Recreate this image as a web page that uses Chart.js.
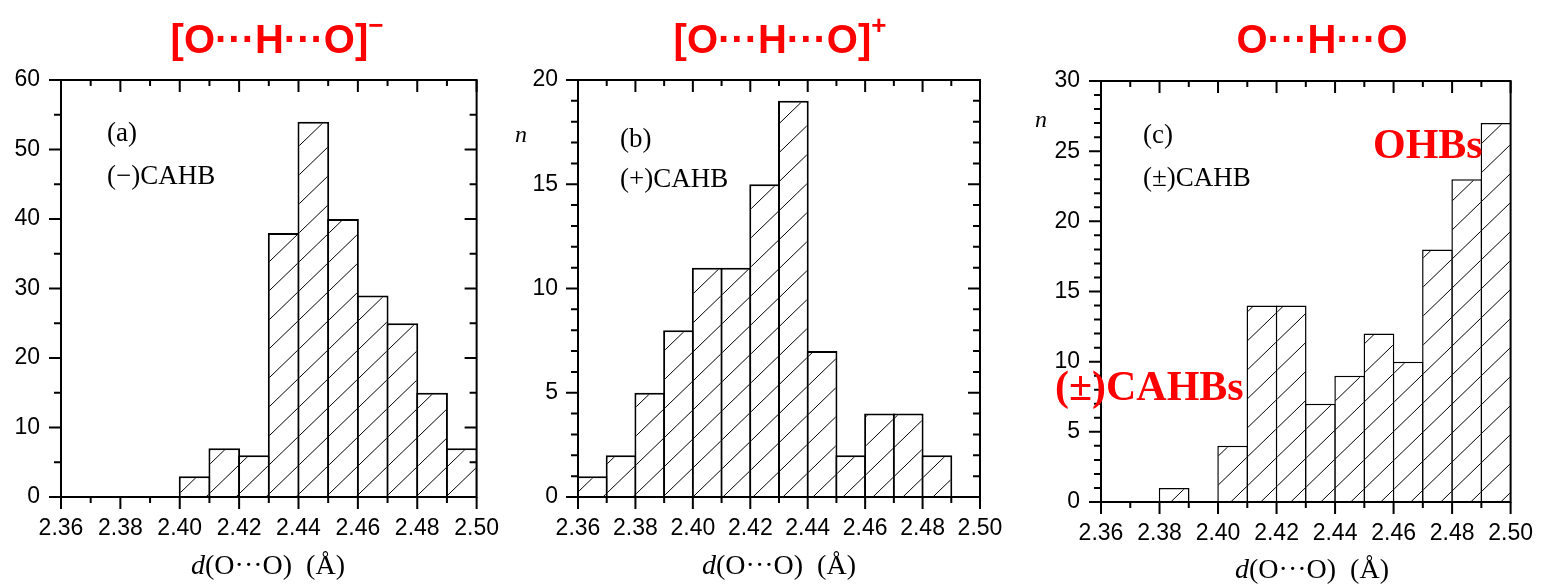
<!DOCTYPE html>
<html>
<head>
<meta charset="utf-8">
<script src="https://cdn.jsdelivr.net/npm/chart.js@4.4.1/dist/chart.umd.min.js"></script>
<style>
  html, body { margin: 0; padding: 0; background: #fff; }
  #wrap { position: relative; width: 1551px; height: 585px; overflow: hidden; }
  canvas { position: absolute; top: 0; }
  .lbl { position: absolute; white-space: nowrap; line-height: 1; color: #000;
         font-family: "Liberation Serif", "Times New Roman", serif; font-size: 27px; }
  .title { position: absolute; top: 19px; white-space: nowrap; line-height: 1; color: #f00;
           font-family: "Liberation Sans", Arial, sans-serif; font-weight: bold; font-size: 40px;
           transform: translateX(-50%); }
  .title sup { font-size: 26px; vertical-align: 19px; line-height: 0; }
  .red { color: #f00; font-weight: bold; font-size: 42px; }
  .xt { transform: translateX(-50%); font-size: 28px; }
  .n { font-style: italic; font-size: 24px; }
</style>
</head>
<body>
<div id="wrap">
  <canvas id="histNeg" width="517" height="585" style="left:0"></canvas>
  <canvas id="histPos" width="513" height="585" style="left:517px"></canvas>
  <canvas id="histNeu" width="521" height="585" style="left:1030px"></canvas>

  <div class="title" style="left:277px">[O···H···O]<sup>−</sup></div>
  <div class="title" style="left:780px">[O···H···O]<sup>+</sup></div>
  <div class="title" style="left:1322px">O···H···O</div>

  <div class="lbl" style="left:107px; top:119px">(a)</div>
  <div class="lbl" style="left:107px; top:162px">(−)CAHB</div>
  <div class="lbl" style="left:620px; top:125px">(b)</div>
  <div class="lbl" style="left:620px; top:165px">(+)CAHB</div>
  <div class="lbl" style="left:1143px; top:121px">(c)</div>
  <div class="lbl" style="left:1143px; top:164px">(±)CAHB</div>

  <div class="lbl n" style="left:515px; top:122px">n</div>
  <div class="lbl n" style="left:1035px; top:107px">n</div>

  <div class="lbl red" style="left:1373px; top:123px">OHBs</div>
  <div class="lbl red" style="left:1055px; top:365px">(±)CAHBs</div>

  <div class="lbl xt" style="left:268px; top:551px"><i>d</i>(O···O)&nbsp;&nbsp;(Å)</div>
  <div class="lbl xt" style="left:779px; top:551px"><i>d</i>(O···O)&nbsp;&nbsp;(Å)</div>
  <div class="lbl xt" style="left:1312px; top:555px"><i>d</i>(O···O)&nbsp;&nbsp;(Å)</div>
</div>

<script>
// O···O distance bins (left edge, Å), all 0.01 Å wide
const binWidth = 0.01;
const xMin = 2.36;
const xMax = 2.50;

// (a) negative charge-assisted H-bonds
const negBins = [2.40, 2.41, 2.42, 2.43, 2.44, 2.45, 2.46, 2.47, 2.48, 2.49];
const negCounts = [3, 7, 6, 38, 54, 40, 29, 25, 15, 7];

// (b) positive charge-assisted H-bonds
const posBins = [2.36, 2.37, 2.38, 2.39, 2.40, 2.41, 2.42, 2.43, 2.44, 2.45, 2.46, 2.47, 2.48];
const posCounts = [1, 2, 5, 8, 11, 11, 15, 19, 7, 2, 4, 4, 2];

// (c) neutral O-H···O bonds
const neuBins = [2.38, 2.40, 2.41, 2.42, 2.43, 2.44, 2.45, 2.46, 2.47, 2.48, 2.49];
const neuCounts = [1, 4, 14, 14, 7, 9, 12, 10, 18, 23, 27];

const tickFont = { family: '"Liberation Sans", Arial, sans-serif', size: 23 };

// diagonal "/" hatch fill
function makeHatch(ctx) {
  const w = 30, h = 29;
  const c = document.createElement('canvas');
  c.width = w;
  c.height = h;
  const g = c.getContext('2d');
  g.fillStyle = '#fff';
  g.fillRect(0, 0, w, h);
  g.strokeStyle = '#000';
  g.lineWidth = 1;
  g.beginPath();
  g.moveTo(-w, 2 * h); g.lineTo(2 * w, -h);
  g.moveTo(-w, h); g.lineTo(w, -h);
  g.moveTo(0, 2 * h); g.lineTo(2 * w, 0);
  g.stroke();
  return ctx.createPattern(c, 'repeat');
}

// box frame with major/minor ticks on all sides
const frameTicks = {
  id: 'frameTicks',
  afterDatasetsDraw(chart, args, opts) {
    const { ctx, chartArea: a, scales: { x, y } } = chart;
    ctx.save();
    ctx.strokeStyle = '#000';
    ctx.lineWidth = 2;
    ctx.strokeRect(a.left, a.top, a.right - a.left, a.bottom - a.top);
    ctx.beginPath();
    x.ticks.forEach(t => {
      const px = x.getPixelForValue(t.value);
      const len = t.label ? 12 : 6;
      ctx.moveTo(px, a.bottom); ctx.lineTo(px, a.bottom + len);
      ctx.moveTo(px, a.top); ctx.lineTo(px, a.top + len);
    });
    y.ticks.forEach(t => {
      const py = y.getPixelForValue(t.value);
      const len = t.label ? 12 : 7;
      ctx.moveTo(a.left, py); ctx.lineTo(a.left - len, py);
      if (opts.right !== false) {
        ctx.moveTo(a.right, py); ctx.lineTo(a.right - len, py);
      }
    });
    ctx.stroke();
    ctx.restore();
  }
};

function makeHist(id, bins, counts, cfg) {
  const el = document.getElementById(id);
  const ctx = el.getContext('2d');
  const data = bins.map((b, i) => ({ x: b + binWidth / 2, y: counts[i] }));

  return new Chart(ctx, {
    type: 'bar',
    data: {
      datasets: [{
        data: data,
        backgroundColor: makeHatch(ctx),
        borderColor: '#000',
        borderWidth: cfg.bw,
        borderSkipped: 'start',
        inflateAmount: 0,
        barPercentage: cfg.barPct,
        categoryPercentage: 1
      }]
    },
    options: {
      responsive: false,
      animation: false,
      devicePixelRatio: 1,
      layout: { padding: { top: cfg.top, right: cfg.right, left: 0, bottom: 0 } },
      plugins: {
        legend: { display: false },
        tooltip: { enabled: false },
        frameTicks: { right: cfg.rightTicks }
      },
      scales: {
        x: {
          type: 'linear',
          min: xMin,
          max: xMax,
          offset: false,
          grid: { display: false, drawTicks: false },
          border: { display: false },
          ticks: {
            stepSize: binWidth,
            autoSkip: false,
            maxRotation: 0,
            padding: 18,
            color: '#000',
            font: tickFont,
            callback: v => Math.round(v * 100) % 2 === 0 ? v.toFixed(2) : ''
          },
          afterFit: s => { s.height = cfg.xHeight; }
        },
        y: {
          min: 0,
          max: cfg.yMax,
          grid: { display: false, drawTicks: false },
          border: { display: false },
          ticks: {
            stepSize: cfg.yStep,
            autoSkip: false,
            padding: cfg.yPad,
            color: '#000',
            font: tickFont,
            callback: v => v % cfg.yMajor === 0 ? String(v) : ''
          },
          afterFit: s => { s.width = cfg.yWidth; }
        }
      }
    },
    plugins: [frameTicks]
  });
}

makeHist('histNeg', negBins, negCounts, {
  yMax: 60, yStep: 5, yMajor: 10, yWidth: 61, yPad: 21,
  top: 80, right: 40, xHeight: 88, rightTicks: true, bw: 2, barPct: 1.067
});

makeHist('histPos', posBins, posCounts, {
  yMax: 20, yStep: 1, yMajor: 5, yWidth: 61, yPad: 20,
  top: 80, right: 50, xHeight: 88, rightTicks: true, bw: 2, barPct: 1.07
});

makeHist('histNeu', neuBins, neuCounts, {
  yMax: 30, yStep: 1, yMajor: 5, yWidth: 71, yPad: 21,
  top: 81, right: 28, xHeight: 83, rightTicks: false, bw: 1.5, barPct: 1.05
});
</script>
</body>
</html>
